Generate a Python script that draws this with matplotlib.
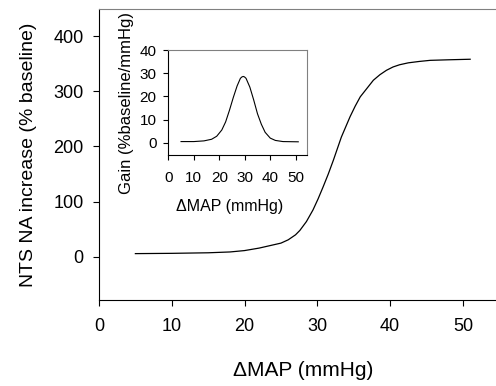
import matplotlib.pyplot as plt

plt.rcParams['font.family'] = ['Liberation Sans', 'DejaVu Sans']

# main curve: NTS NA increase vs delta MAP
map_main = [5, 10, 15, 18, 20, 22, 23.5, 25, 26, 27, 27.6, 28.5, 29.4, 30.1,
            30.8, 31.5, 32.2, 33.3, 34.5, 35.2, 35.9, 36.8, 37.7, 38.6, 39.5,
            40.4, 41.3, 42.5, 44, 45.5, 48, 51]
na_main = [6, 6.5, 7.5, 9, 11.5, 16, 20.5, 25, 31, 40, 48, 64, 85, 105,
           127, 150, 175, 217, 254, 273, 290, 305, 320, 330, 338,
           344, 348, 351.5, 354, 356, 357, 358]

# inset: gain curve
map_gain = [5, 10, 14, 17, 19, 21, 22.5, 24, 25.5, 27, 28.3, 28.9, 29.4, 29.9,
            30.5, 32, 33.5, 35, 36.5, 38, 40, 42, 45, 51]
gain = [0.5, 0.5, 0.8, 1.5, 2.8, 5.5, 9, 14, 19.5, 24.5, 27.8, 28.4, 28.6, 28.4,
        27.8, 24, 18.5, 12.5, 8, 4.5, 2, 1, 0.5, 0.4]

main_yticks = [0, 100, 200, 300, 400]
main_xticks = [0, 10, 20, 30, 40, 50]
gain_yticks = [0, 10, 20, 30, 40]
gain_xticks = [0, 10, 20, 30, 40, 50]

fig = plt.figure(figsize=(4.96, 3.86), dpi=100)

# main axes runs a bit past the right edge (right spine is cut off in the original)
ax = fig.add_axes([0.1996, 0.2228, 0.8246, 0.7539])
ax.plot(map_main, na_main, color='black', lw=0.9)
ax.set_xlim(0, 56.2)
ax.set_ylim(-78, 449)
ax.set_xticks(main_xticks)
ax.set_yticks(main_yticks)
ax.tick_params(axis='both', direction='out', length=4, width=0.8, labelsize=13)
ax.tick_params(axis='x', pad=9)
ax.tick_params(axis='y', pad=7)
ax.set_xlabel('ΔMAP (mmHg)', fontsize=15)
ax.xaxis.set_label_coords(0.5, -0.208)
ax.set_ylabel('NTS NA increase (% baseline)', fontsize=14, labelpad=12)
for s in ['top', 'right']:
    ax.spines[s].set_color('#808080')

ins = fig.add_axes([0.3393, 0.5984, 0.279, 0.272])
ins.plot(map_gain, gain, color='black', lw=0.8)
ins.set_xlim(0, 54.3)
ins.set_ylim(-5.3, 40)
ins.set_xticks(gain_xticks)
ins.set_yticks(gain_yticks)
ins.tick_params(axis='both', direction='out', length=3.5, width=0.8, labelsize=11)
ins.tick_params(axis='x', pad=8)
ins.tick_params(axis='y', pad=5)
ins.set_xlabel('ΔMAP (mmHg)', fontsize=11.5)
ins.xaxis.set_label_coords(0.446, -0.42)
ins.set_ylabel('Gain (%baseline/mmHg)', fontsize=12, labelpad=4)
for s in ['top', 'right']:
    ins.spines[s].set_color('#808080')

fig.savefig('out.png', dpi=100)
